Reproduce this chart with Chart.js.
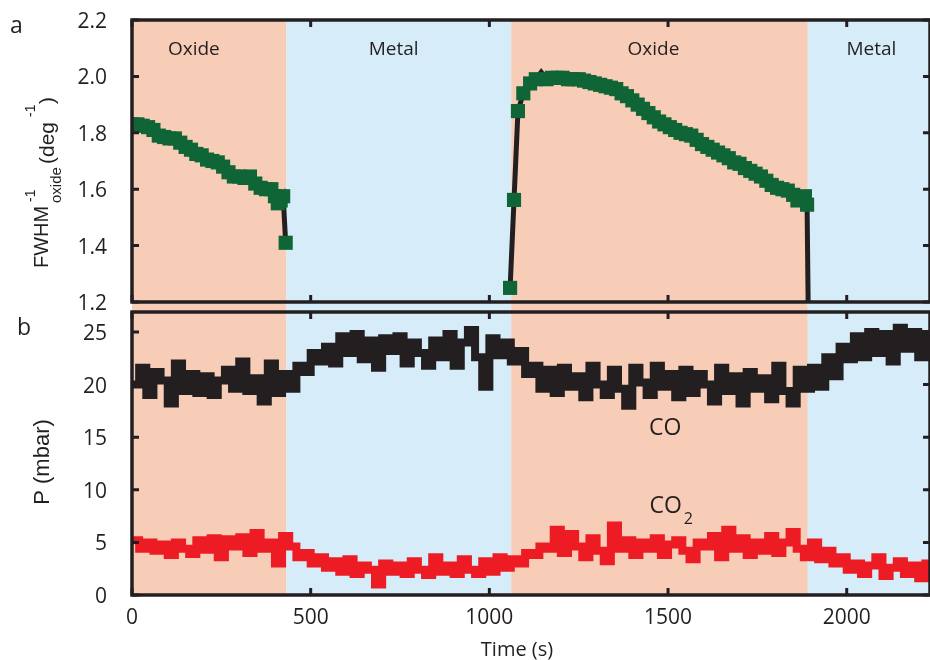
<!DOCTYPE html>
<html><head><meta charset="utf-8">
<style>html,body{margin:0;padding:0;overflow:hidden;background:#fff}canvas{display:block}</style>
<script src="https://cdn.jsdelivr.net/npm/chart.js@4.4.1/dist/chart.umd.min.js"></script>
</head><body>
<canvas id="c" width="940" height="660"></canvas>
<script>
// ---- data ----
const fwhmTime1 = [0,15,30,45,60,75,90,105,120,135,150,165,180,195,210,225,240,255,270,285,300,315,330,345,360,375,390,400,408,416,423,430];
const fwhmValue1 = [1.83,1.83,1.825,1.82,1.81,1.79,1.785,1.78,1.78,1.765,1.75,1.74,1.725,1.72,1.705,1.70,1.695,1.68,1.66,1.645,1.645,1.64,1.645,1.62,1.605,1.60,1.60,1.575,1.55,1.56,1.575,1.41];
const fwhmTime2 = [1058,1069,1080,1095,1114,1130,1145,1160,1175,1190,1205,1220,1235,1250,1265,1280,1295,1310,1325,1340,1355,1370,1385,1400,1415,1430,1445,1460,1475,1490,1505,1520,1535,1550,1565,1580,1595,1610,1625,1640,1655,1670,1685,1700,1715,1730,1745,1760,1775,1790,1805,1820,1835,1850,1862,1874,1883,1889,1892];
const fwhmValue2 = [1.25,1.562,1.877,1.94,1.975,1.99,2.015,1.99,1.995,1.995,1.995,1.99,1.99,1.99,1.985,1.98,1.975,1.97,1.965,1.96,1.955,1.94,1.93,1.915,1.90,1.885,1.87,1.855,1.84,1.83,1.82,1.81,1.80,1.795,1.79,1.775,1.76,1.75,1.74,1.73,1.72,1.71,1.695,1.69,1.675,1.665,1.655,1.645,1.63,1.615,1.605,1.60,1.595,1.58,1.56,1.565,1.575,1.545,1.2];
const fwhmLineOnlyTimes = [1145, 1892];

const pressureTime = [0,20,40,60,80,100,120,140,160,180,200,220,240,260,280,300,320,340,360,380,400,420,440,460,480,500,520,540,560,580,600,620,640,660,680,700,720,740,760,780,800,820,840,860,880,900,920,940,960,980,1000,1020,1040,1060,1080,1100,1120,1140,1160,1180,1200,1220,1240,1260,1280,1300,1320,1340,1360,1380,1400,1420,1440,1460,1480,1500,1520,1540,1560,1580,1600,1620,1640,1660,1680,1700,1720,1740,1760,1780,1800,1820,1840,1860,1880,1900,1920,1940,1960,1980,2000,2020,2040,2060,2080,2100,2120,2140,2160,2180,2200,2220,2240];
const coValue = [20.0,21.6,19.0,21.2,20.4,18.2,22.0,19.4,21.0,19.2,20.8,19.0,20.4,21.4,19.6,22.2,19.4,20.6,18.4,22.0,19.2,21.0,
  19.6,21.8,21.2,23.0,22.2,23.6,
  22.0,24.6,23.0,24.8,22.4,24.2,21.6,24.4,23.2,24.6,22.0,24.0,23.0,21.8,24.2,22.6,24.8,21.8,24.0,25.2,22.6,19.8,24.4,22.8,24.0,
  22.2,23.2,21.0,21.8,19.6,
  21.4,19.2,21.6,19.8,20.8,18.8,21.8,20.0,19.0,21.4,19.6,18.0,21.6,20.2,19.0,21.8,19.8,21.0,18.8,21.4,19.2,21.0,20.0,18.4,21.6,19.4,20.8,18.2,21.2,19.6,20.6,18.6,21.8,19.4,18.2,21.4,19.6,
  21.6,19.8,22.6,20.8,23.6,22.4,
  24.6,22.6,25.0,23.0,24.8,22.2,25.4,23.4,25.0,22.6,24.8,23.4];
const co2Value = [5.2,4.4,5.0,4.2,4.8,3.8,5.0,4.4,3.9,5.2,4.3,5.4,3.6,5.3,4.6,5.5,4.0,5.9,4.4,5.0,3.0,5.6,
  4.6,3.6,4.0,3.0,3.6,2.6,
  3.2,2.2,3.4,2.0,2.8,2.4,1.0,3.0,2.2,2.8,2.0,3.2,2.4,1.9,3.6,2.2,2.8,2.0,3.4,2.4,2.0,3.2,2.2,3.6,2.6,
  3.4,3.0,4.0,3.8,4.6,
  4.4,6.2,4.0,5.8,4.6,3.6,5.4,4.2,3.2,6.6,4.4,5.2,3.8,5.0,4.4,5.4,3.8,4.8,5.2,4.2,3.4,5.0,4.6,5.6,3.6,6.2,4.4,5.4,3.8,5.0,4.2,5.6,4.0,5.0,6.0,4.4,3.6,
  5.0,3.4,4.2,3.0,3.6,2.4,
  3.0,2.0,2.8,3.6,1.8,2.6,3.2,2.0,2.8,1.6,3.0,2.2];

const bandStart = [0, 432, 1061, 1891];
const bandEnd = [432, 1061, 1891, 2233];
const bandPhase = ['Oxide', 'Metal', 'Oxide', 'Metal'];
const bandLabelTime = [173, 732, 1459, 2069];
const bandLabelLevel = 2.076;

const timeTicks = [0, 500, 1000, 1500, 2000];
const fwhmTicks = [1.2, 1.4, 1.6, 1.8, 2.0, 2.2];
const pressureTicks = [0, 5, 10, 15, 20, 25];

// ---- styles ----
const C = { ink: '#231f20', green: '#0f6535', red: '#ed1c24', oxide: '#f8cdb7', metal: '#d6ecf8' };
const OPEN = "'Open Sans', sans-serif";
const HELV = "'Liberation Sans', Arial, sans-serif";
const tickFont = { family: OPEN, size: 21 };

const xy = (ts, vs) => ts.map((t, i) => ({ x: t, y: vs[i] }));

function txt(ctx, s, x, y, font, align, rot) {
  ctx.save();
  ctx.translate(x, y);
  if (rot) ctx.rotate(rot);
  ctx.font = font;
  ctx.textAlign = align || 'left';
  ctx.textBaseline = 'alphabetic';
  ctx.fillStyle = C.ink;
  ctx.fillText(s, 0, 0);
  ctx.restore();
}

const panelPlugin = {
  id: 'panels',
  beforeDatasetsDraw(chart) {
    const { ctx, chartArea: a, scales: { x } } = chart;
    ctx.save();
    bandStart.forEach((s, i) => {
      const l = x.getPixelForValue(s), r = x.getPixelForValue(bandEnd[i]);
      ctx.fillStyle = bandPhase[i] === 'Oxide' ? C.oxide : C.metal;
      ctx.fillRect(l, a.top, r - l, a.bottom - a.top);
    });
    ctx.restore();
  },
  afterDatasetsDraw(chart) {
    const { ctx, chartArea: a, scales: { x, yTop, yBot } } = chart;
    const panels = [
      { top: yTop.getPixelForValue(fwhmTicks[fwhmTicks.length - 1]), bottom: yTop.getPixelForValue(fwhmTicks[0]), y: yTop, ticks: fwhmTicks },
      { top: yBot.top, bottom: yBot.getPixelForValue(pressureTicks[0]), y: yBot, ticks: pressureTicks }
    ];
    ctx.save();
    ctx.strokeStyle = C.ink;
    panels.forEach(p => {
      ctx.lineWidth = 3;
      ctx.beginPath();
      p.ticks.forEach(v => {
        const py = p.y.getPixelForValue(v);
        ctx.moveTo(a.left, py); ctx.lineTo(a.left + 7, py);
        ctx.moveTo(a.right - 7, py); ctx.lineTo(a.right, py);
      });
      timeTicks.forEach(t => {
        const px = x.getPixelForValue(t);
        ctx.moveTo(px, p.top); ctx.lineTo(px, p.top + 7);
        ctx.moveTo(px, p.bottom - 7); ctx.lineTo(px, p.bottom);
      });
      ctx.stroke();
      ctx.lineWidth = 3.5;
      ctx.strokeRect(a.left, p.top, a.right - a.left, p.bottom - p.top);
    });
    ctx.restore();
  },
  afterDraw(chart) {
    const { ctx, scales: { x, yTop, yBot } } = chart;
    txt(ctx, 'a', 10, 33, `23px ${OPEN}`);
    txt(ctx, 'b', 17, 335, `23px ${OPEN}`);
    const ly = yTop.getPixelForValue(bandLabelLevel);
    bandPhase.forEach((s, i) => txt(ctx, s, x.getPixelForValue(bandLabelTime[i]), ly, `19px ${OPEN}`, 'center'));
    txt(ctx, 'CO', x.getPixelForValue(1492), yBot.getPixelForValue(15.2), `23px ${OPEN}`, 'center');
    const cx = x.getPixelForValue(1448), cy = yBot.getPixelForValue(7.8);
    ctx.font = `23px ${OPEN}`;
    const w = ctx.measureText('CO').width;
    txt(ctx, 'CO', cx, cy, `23px ${OPEN}`);
    txt(ctx, '2', cx + w + 2, cy + 11, `16px ${OPEN}`);
    txt(ctx, 'Time (s)', 517, 656, `20px ${OPEN}`, 'center');
    const R = -Math.PI / 2;
    txt(ctx, 'P (mbar)', 48.5, 462, `22px ${HELV}`, 'center', R);
    txt(ctx, 'FWHM', 48, 268, `20px ${HELV}`, 'left', R);
    txt(ctx, '-1', 35, 202, `14px ${HELV}`, 'left', R);
    txt(ctx, 'oxide', 61, 203, `15px ${HELV}`, 'left', R);
    txt(ctx, '(deg', 54, 164, `21px ${HELV}`, 'left', R);
    txt(ctx, '-1', 35, 117, `14px ${HELV}`, 'left', R);
    txt(ctx, ')', 54, 104, `21px ${HELV}`, 'left', R);
  }
};

const fwhmStyle = {
  type: 'line',
  yAxisID: 'yTop',
  borderColor: C.ink,
  borderWidth: 5,
  borderJoinStyle: 'miter',
  pointStyle: 'rect',
  pointRadius: ctx => (ctx.raw && fwhmLineOnlyTimes.includes(ctx.raw.x)) ? 0 : 10,
  pointBackgroundColor: C.green,
  pointBorderColor: C.green,
  pointBorderWidth: 0,
  tension: 0
};

const noPad = s => { s.paddingTop = 0; s.paddingBottom = 0; s.paddingLeft = 0; s.paddingRight = 0; };

new Chart(document.getElementById('c'), {
  type: 'line',
  data: {
    datasets: [
      Object.assign({ label: 'FWHM (oxide) 1', data: xy(fwhmTime1, fwhmValue1) }, fwhmStyle),
      Object.assign({ label: 'FWHM (oxide) 2', data: xy(fwhmTime2, fwhmValue2) }, fwhmStyle),
      { label: 'CO', yAxisID: 'yBot', data: xy(pressureTime, coValue), borderColor: C.ink, borderWidth: 8, stepped: true, pointRadius: 0, borderJoinStyle: 'miter', borderCapStyle: 'butt' },
      { label: 'CO2', yAxisID: 'yBot', data: xy(pressureTime, co2Value), borderColor: C.red, borderWidth: 8, stepped: true, pointRadius: 0, borderJoinStyle: 'miter', borderCapStyle: 'butt' }
    ]
  },
  options: {
    responsive: false,
    animation: false,
    events: [],
    layout: { padding: { top: 20, right: 6, bottom: 0, left: 0 } },
    plugins: { legend: { display: false }, tooltip: { enabled: false } },
    scales: {
      x: {
        type: 'linear', position: 'bottom', min: 0, max: 2233,
        afterBuildTicks: s => { s.ticks = timeTicks.map(v => ({ value: v })); },
        afterFit: s => { s.height = 65; noPad(s); },
        ticks: { font: tickFont, color: C.ink, padding: 10, maxRotation: 0, autoSkip: false, callback: v => String(v) },
        grid: { display: false, drawTicks: false },
        border: { display: false }
      },
      yTop: {
        type: 'linear', position: 'left', stack: 'panels', stackWeight: 292, weight: 2,
        min: 1.1645, max: 2.2,
        afterBuildTicks: s => { s.ticks = fwhmTicks.map(v => ({ value: v })); },
        afterFit: s => { s.width = 132; noPad(s); },
        ticks: { font: tickFont, color: C.ink, padding: 25, labelOffset: 2, callback: v => v.toFixed(1) },
        grid: { display: false, drawTicks: false },
        border: { display: false }
      },
      yBot: {
        type: 'linear', position: 'left', stack: 'panels', stackWeight: 283, weight: 1,
        min: 0, max: 26.9,
        afterBuildTicks: s => { s.ticks = pressureTicks.map(v => ({ value: v })); },
        afterFit: s => { s.width = 132; noPad(s); },
        ticks: { font: tickFont, color: C.ink, padding: 25, labelOffset: 2, callback: v => String(v) },
        grid: { display: false, drawTicks: false },
        border: { display: false }
      }
    }
  },
  plugins: [panelPlugin]
});
</script>
</body></html>
